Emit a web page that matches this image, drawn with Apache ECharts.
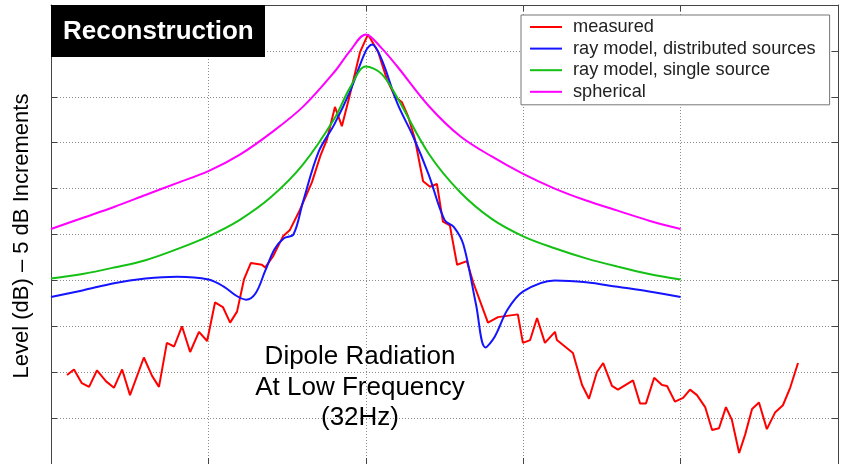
<!DOCTYPE html>
<html><head><meta charset="utf-8">
<script src="https://cdn.jsdelivr.net/npm/echarts@6/dist/echarts.min.js"></script>
<style>html,body{margin:0;padding:0;background:#fff}#c{width:856px;height:464px}</style>
</head><body><div id="c"></div>
<script>
// Axis ranges (no tick labels are shown in the reference)
const xRange = [0, 250], xStep = 50;
const yRange = [0, 50], yStep = 5;
const seriesNames = ['measured', 'ray model, distributed sources', 'ray model, single source', 'spherical'];
const titleText = 'Reconstruction';
const noteLines = ['Dipole Radiation', 'At Low Frequency', '(32Hz)'];
const yLabel = 'Level (dB) \u2013 5 dB Increments';

const measured = [[5.1,9.7],[7.3,10.3],[9.8,8.8],[12.1,8.4],[14.6,10.2],[17.5,9.0],[20.0,8.3],[22.6,10.3],[25.1,7.5],
[29.5,11.6],[32.1,9.6],[34.3,8.4],[36.8,13.2],[39.1,12.8],[41.6,15.0],[44.2,12.2],[47.0,14.4],[49.6,13.4],[52.1,17.6],
[54.6,17.1],[56.9,15.4],[59.1,16.6],[61.3,20.1],[63.5,21.9],[67.0,21.7],[68.0,21.4],[70.5,22.6],[73.7,24.8],[75.9,25.5],
[79.1,27.7],[80.1,28.5],[82.9,30.7],[85.5,33.5],[87.7,35.4],[90.2,38.9],[92.4,36.8],[95.0,40.3],[98.2,44.9],[100.7,46.8],
[103.9,44.9],[106.7,41.9],[109.3,40.0],[111.5,39.4],[113.4,37.9],[115.6,35.4],[118.2,30.8],[120.4,30.2],[122.6,30.5],
[124.5,26.4],[126.7,26.0],[129.0,21.7],[132.1,22.1],[134.1,19.8],[138.8,15.4],[142.0,16.0],[148.3,16.3],[149.9,13.2],
[152.2,13.5],[154.4,15.9],[156.9,13.2],[160.1,14.4],[160.7,13.5],[165.8,12.1],[168.7,8.6],[170.9,7.1],[173.4,10.0],
[175.4,11.0],[178.2,8.5],[180.1,8.1],[184.9,9.1],[187.1,6.6],[189.0,6.6],[191.6,9.4],[194.1,8.6],[195.7,8.5],[198.2,6.8],
[200.8,7.2],[203.0,8.1],[205.2,7.5],[207.8,6.2],[210.0,3.7],[212.2,3.9],[214.4,6.2],[216.3,4.8],[218.6,1.2],[220.5,3.2],
[222.7,6.0],[224.9,6.7],[227.4,3.8],[230.0,5.6],[232.5,6.4],[234.8,8.3],[237.3,11.0]];

const distributed = [[0,18.2],[10,18.9],[20,19.7],[30,20.2],[40,20.4],[50,20.1],[55,19.3],[59,18.3],[62,17.9],[65,18.6],
[68,21.0],[71,23.4],[74,24.6],[77,25.0],[80,28.5],[85,34.0],[90,37.0],[95,40.6],[100,45.0],[102,45.7],[105,44.1],[110,39.3],
[115,35.7],[120,31.5],[125,26.6],[128,25.8],[131,23.9],[135,17.4],[138,12.7],[141,13.9],[145,16.8],[150,18.8],[160,20.0],
[170,19.8],[180,19.3],[190,18.8],[200,18.2]];

const single = [[0,20.2],[10,20.7],[20,21.4],[30,22.2],[40,23.4],[50,24.8],[60,26.6],[70,29.1],[80,32.6],[90,37.6],
[95,41.0],[100,43.3],[105,42.5],[110,39.9],[120,33.8],[130,29.6],[140,26.7],[150,24.8],[160,23.5],[170,22.4],[180,21.5],
[190,20.7],[200,20.1]];

const spherical = [[0,25.6],[10,26.8],[20,28.0],[30,29.3],[40,30.6],[50,31.9],[60,33.7],[70,36.1],[80,38.9],[90,42.7],
[95,45.0],[100,46.8],[105,45.3],[110,43.3],[120,39.0],[130,35.7],[140,33.5],[150,31.6],[160,30.0],[170,28.7],[180,27.6],
[190,26.5],[200,25.6]];

const colors = ['#ff0000', '#1414ff', '#14c014', '#ff00ff'];
const FONT = "'Liberation Sans', Arial, Helvetica, sans-serif";
const axisCol = '#444';

function xAx(pos, grid) {
  return { type:'value', min:xRange[0], max:xRange[1], interval:xStep, position:pos,
    axisLine:{show:true, onZero:false, lineStyle:{color:axisCol, width:1}},
    axisTick:{show:true, inside:true, length:6, lineStyle:{color:axisCol}},
    axisLabel:{show:false},
    splitLine:{show:grid, lineStyle:{color:'#8c8c8c', width:1, type:[1,2]}} };
}
function yAx(pos, grid) {
  return { type:'value', min:yRange[0], max:yRange[1], interval:yStep, position:pos,
    axisLine:{show:true, onZero:false, lineStyle:{color:axisCol, width:1}},
    axisTick:{show:true, inside:true, length:6, lineStyle:{color:axisCol}},
    axisLabel:{show:false},
    splitLine:{show:grid, lineStyle:{color:'#8c8c8c', width:1, type:[1,2]}} };
}
function line(i, data, smooth) {
  return { name:seriesNames[i], type:'line', data:data, symbol:'none', smooth:smooth,
    lineStyle:{color:colors[i], width:2}, itemStyle:{color:colors[i]}, z:3 };
}

const chart = echarts.init(document.getElementById('c'), null, {renderer:'canvas'});
chart.setOption({
  animation:false,
  backgroundColor:'#fff',
  grid:{left:51, right:18, top:5, bottom:0, containLabel:false},
  xAxis:[xAx('bottom', true), xAx('top', false)],
  yAxis:[yAx('left', true), yAx('right', false)],
  legend:{orient:'vertical', left:521, top:15, backgroundColor:'#fff', borderColor:'#777', borderWidth:1,
    borderRadius:0, padding:[2,14,3,9], itemWidth:32, itemHeight:2, itemGap:1.6, icon:'rect',
    textStyle:{fontFamily:FONT, fontSize:18.2, color:'#222', lineHeight:20, padding:[0,0,0,6]},
    data:seriesNames, selectedMode:false, z:10},
  series:[line(0, measured, false), line(1, distributed, 0.35), line(2, single, 0.35), line(3, spherical, 0.35)],
  graphic:[
    {type:'rect', shape:{x:51, y:5, width:214, height:52}, style:{fill:'#000'}, z:100},
    {type:'text', x:63, y:32, z:101, style:{text:titleText, fill:'#fff', font:'bold 26px ' + FONT, verticalAlign:'middle', align:'left'}},
    {type:'text', x:360, y:357, z:101, style:{text:noteLines[0], fill:'#000', font:'26px ' + FONT, verticalAlign:'middle', align:'center'}},
    {type:'text', x:360, y:388, z:101, style:{text:noteLines[1], fill:'#000', font:'26px ' + FONT, verticalAlign:'middle', align:'center'}},
    {type:'text', x:360, y:418, z:101, style:{text:noteLines[2], fill:'#000', font:'26px ' + FONT, verticalAlign:'middle', align:'center'}},
    {type:'text', x:22, y:236, rotation:Math.PI/2, z:101, style:{text:yLabel, fill:'#000', font:'22px ' + FONT, verticalAlign:'middle', align:'center'}}
  ]
});
</script></body></html>
